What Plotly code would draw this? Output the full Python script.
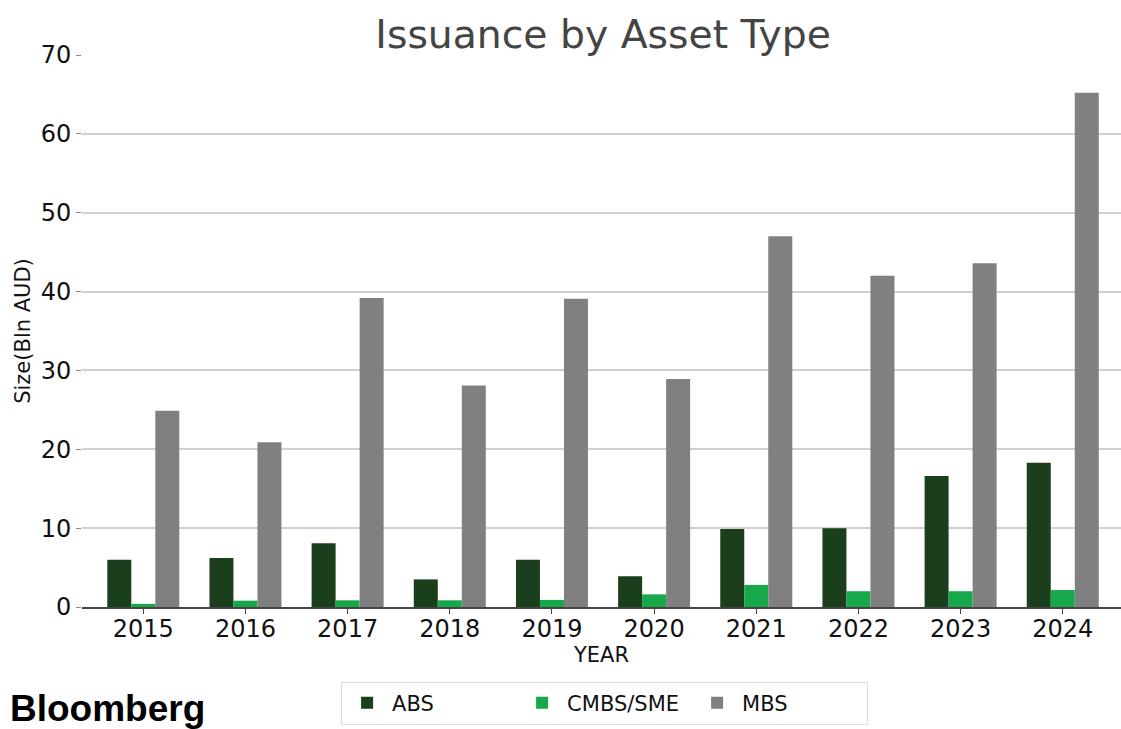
import plotly.graph_objects as go

years = ["2015", "2016", "2017", "2018", "2019", "2020", "2021", "2022", "2023", "2024"]
abs_vals = [6.0, 6.2, 8.1, 3.5, 6.0, 3.9, 9.9, 10.0, 16.6, 18.3]
cmbs_vals = [0.4, 0.8, 0.85, 0.85, 0.9, 1.6, 2.8, 2.0, 2.0, 2.15]
mbs_vals = [24.9, 20.9, 39.2, 28.1, 39.1, 28.9, 47.0, 42.0, 43.6, 65.2]

series = [
    ("ABS", abs_vals, "#1b3f1c"),
    ("CMBS/SME", cmbs_vals, "#17a84a"),
    ("MBS", mbs_vals, "#808080"),
]

fig = go.Figure()
for name, vals, col in series:
    fig.add_trace(go.Bar(x=years, y=vals, name=name, marker=dict(color=col, line=dict(width=0))))

fig.update_layout(
    width=1121, height=729,
    barmode="group", bargap=0.295, bargroupgap=0,
    paper_bgcolor="white", plot_bgcolor="white",
    margin=dict(l=82, r=0, t=55, b=122),
    font=dict(family="DejaVu Sans", color="#111111"),
    title=dict(text="Issuance by Asset Type", x=0.538, xanchor="center", y=1 - 34 / 729, yanchor="middle",
               yref="container", font=dict(size=39.3, color="#444444", family="DejaVu Sans")),
    showlegend=True,
    legend=dict(orientation="h", x=0.503, xanchor="center", y=-96 / 552, yanchor="middle",
                bordercolor="#dddddd", borderwidth=1, font=dict(size=21, color="#111111"),
                itemwidth=40, tracegroupgap=0, entrywidthmode="pixels", entrywidth=120),
    xaxis=dict(
        range=[-0.6, 9.57], showgrid=False, showline=True, linecolor="#444444", linewidth=1.5,
        ticks="outside", ticklen=5, tickcolor="#444444", tickfont=dict(size=24), automargin=False,
        ticklabelstandoff=-6,
        title=dict(text="YEAR", font=dict(size=21), standoff=2),
    ),
    yaxis=dict(
        range=[0, 70], tickvals=[0, 10, 20, 30, 40, 50, 60, 70], showgrid=True, gridcolor="#d4cfcf",
        gridwidth=1.5, showline=False, zeroline=False, ticks="outside", ticklen=5, tickcolor="#888888",
        tickfont=dict(size=24), automargin=False, title=dict(text="Size(Bln AUD)", font=dict(size=21), standoff=4),
    ),
    annotations=[dict(text="<b>Bloomberg</b>", xref="paper", yref="paper", x=-74 / 1039, y=-101 / 552,
                      xanchor="left", yanchor="middle", showarrow=False,
                      font=dict(family="Liberation Sans", size=37, color="#000000"))],
)

fig.write_html("out.html", config={"displayModeBar": False},
               post_script="document.body.style.margin='0';document.body.style.padding='0';")
